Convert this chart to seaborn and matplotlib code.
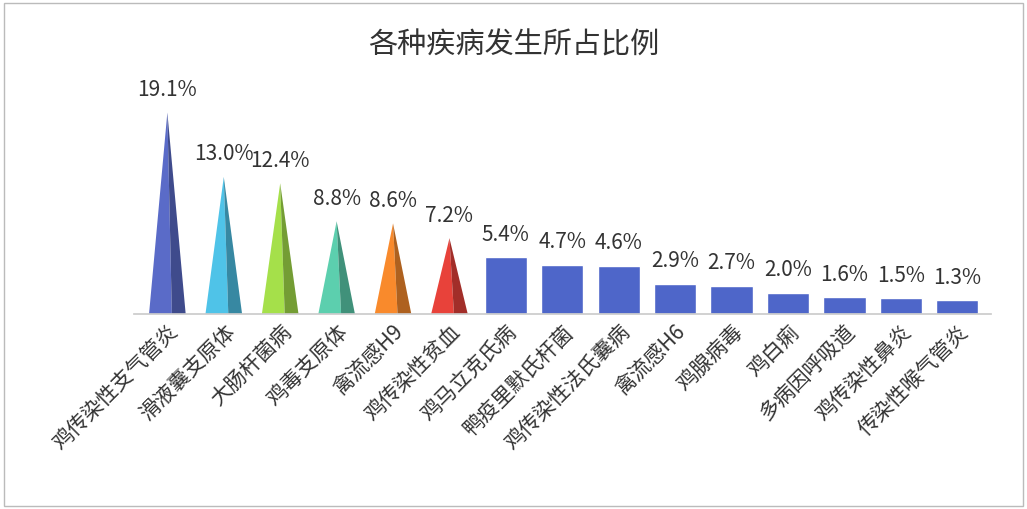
import matplotlib
matplotlib.use("Agg")
import matplotlib.pyplot as plt
import seaborn as sns
import pandas as pd
from matplotlib.patches import Polygon, Rectangle

sns.set_theme(style="white")
plt.rcParams['font.family'] = ['Noto Sans CJK SC', 'DejaVu Sans']

categories = ["鸡传染性支气管炎", "滑液囊支原体", "大肠杆菌病", "鸡毒支原体", "禽流感H9", "鸡传染性贫血",
              "鸡马立克氏病", "鸭疫里默氏杆菌", "鸡传染性法氏囊病", "禽流感H6", "鸡腺病毒", "鸡白痢",
              "多病因呼吸道", "鸡传染性鼻炎", "传染性喉气管炎"]
values = [19.1, 13.0, 12.4, 8.8, 8.6, 7.2, 5.4, 4.7, 4.6, 2.9, 2.7, 2.0, 1.6, 1.5, 1.3]
tri_colors = ["#5a6bc8", "#4fc3e8", "#a5e04a", "#5ccfae", "#f98a2c", "#e8423a"]
bar_color = "#4e66c9"

df = pd.DataFrame({"cat": categories, "val": values})
fig = plt.figure(figsize=(10.27, 5.10), dpi=100)
ax = fig.add_axes([0.13, 0.382, 0.835, 0.414])
sns.barplot(data=df, x="cat", y="val", color=bar_color, width=0.75, ax=ax, saturation=1)
ax.set_ylim(0, 20)
ax.set_xlim(-0.6, len(values) - 0.4)

def darker(c, f=0.7):
    import matplotlib.colors as mc
    r, g, b = mc.to_rgb(c)
    return (r * f, g * f, b * f)

for i, p in enumerate(ax.patches):
    x0, w, h = p.get_x(), p.get_width(), p.get_height()
    if i < len(tri_colors):
        p.set_visible(False)
        c = tri_colors[i]
        cx = x0 + w / 2
        ax.add_patch(Polygon([(x0 + 0.05, 0), (cx + 0.08, 0), (cx, h)], closed=True, color=c, lw=0))
        ax.add_patch(Polygon([(cx + 0.08, 0), (x0 + w - 0.05, 0), (cx, h)], closed=True, color=darker(c), lw=0))
    ax.text(x0 + w / 2, h + 1.2, f"{values[i]:.1f}%", ha="center", va="bottom", fontsize=15, color="#333333")

for s in ["top", "right", "left"]:
    ax.spines[s].set_visible(False)
ax.spines["bottom"].set_color("#cccccc")
ax.set_yticks([])
ax.set_xlabel("")
ax.set_ylabel("")
ax.tick_params(axis="x", length=0, pad=4)
plt.setp(ax.get_xticklabels(), rotation=45, ha="right", rotation_mode="anchor", fontsize=15, color="#333333")

fig.text(0.5, 0.91, "各种疾病发生所占比例", ha="center", va="center", fontsize=21, color="#333333")
fig.patches.append(Rectangle((0.004, 0.006), 0.992, 0.986, transform=fig.transFigure,
                             fill=False, edgecolor="#bbbbbb", lw=1))
fig.savefig("out.png", dpi=100, facecolor="white")
